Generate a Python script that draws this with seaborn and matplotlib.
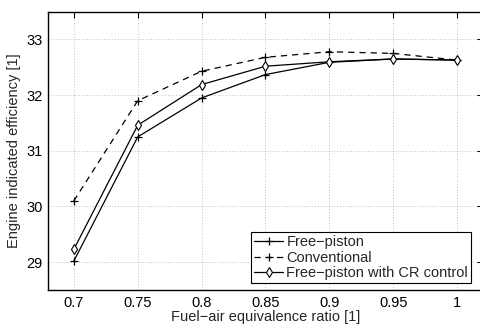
import matplotlib
matplotlib.use("Agg")
import matplotlib.pyplot as plt
import seaborn as sns
import pandas as pd

phi = [0.7, 0.75, 0.8, 0.85, 0.9, 0.95, 1.0]
free_piston = [29.02, 31.25, 31.95, 32.37, 32.59, 32.65, 32.63]
conventional = [30.10, 31.90, 32.43, 32.68, 32.78, 32.75, 32.63]
cr_control = [29.23, 31.46, 32.19, 32.52, 32.60, 32.65, 32.63]
labels = ["Free\u2212piston", "Conventional", "Free\u2212piston with CR control"]
xticks = [0.7, 0.75, 0.8, 0.85, 0.9, 0.95, 1.0]
xticklabels = ["0.7", "0.75", "0.8", "0.85", "0.9", "0.95", "1"]
yticks = [29, 30, 31, 32, 33]

sns.set_style("white")
plt.rcParams['font.family'] = ['Liberation Sans', 'DejaVu Sans']
plt.rcParams['axes.unicode_minus'] = True

fig = plt.figure(figsize=(4.8, 3.24), dpi=100)
ax = fig.add_axes([0.1006, 0.105, 0.905, 0.859])

df = pd.DataFrame({"phi": phi, "fp": free_piston, "conv": conventional, "cr": cr_control})
sns.lineplot(data=df, x="phi", y="fp", ax=ax, color="black", lw=0.9, marker="+",
             markersize=6, markeredgewidth=0.9, markeredgecolor="black", label=labels[0])
sns.lineplot(data=df, x="phi", y="conv", ax=ax, color="black", lw=0.9, marker="+",
             markersize=6, markeredgewidth=0.9, markeredgecolor="black", label=labels[1],
             linestyle=(0, (5, 4)))
sns.lineplot(data=df, x="phi", y="cr", ax=ax, color="black", lw=0.9, marker="d",
             markersize=5.5, markerfacecolor="white", markeredgecolor="black",
             markeredgewidth=0.8, label=labels[2])

ax.set_xlim(0.68, 1.02)
ax.set_ylim(28.5, 33.5)
ax.set_xticks(xticks)
ax.set_xticklabels(xticklabels)
ax.set_yticks(yticks)
ax.grid(True, color="#888888", linestyle=(0, (1, 3)), linewidth=0.5)
ax.tick_params(direction="in", length=4, width=0.8, labelsize=10.5, top=True, right=True,
               colors="black")
ax.tick_params(axis="x", pad=4.5)
ax.tick_params(axis="y", pad=4)
for s in ax.spines.values():
    s.set_visible(True)
    s.set_color("black")
    s.set_linewidth(1.0)
ax.set_xlabel("Fuel\u2212air equivalence ratio [1]", fontsize=10.5, labelpad=-0.5)
ax.set_ylabel("Engine indicated efficiency [1]", fontsize=10.5, labelpad=4)

leg = ax.legend(loc="lower right", bbox_to_anchor=(0.973, 0.025), fontsize=10.5, frameon=True,
                fancybox=False, edgecolor="black", framealpha=1, handlelength=2.0,
                handletextpad=0.2, borderpad=0.2, labelspacing=0.1, borderaxespad=0)
leg.get_frame().set_linewidth(0.8)

fig.savefig("out.png", dpi=100)
